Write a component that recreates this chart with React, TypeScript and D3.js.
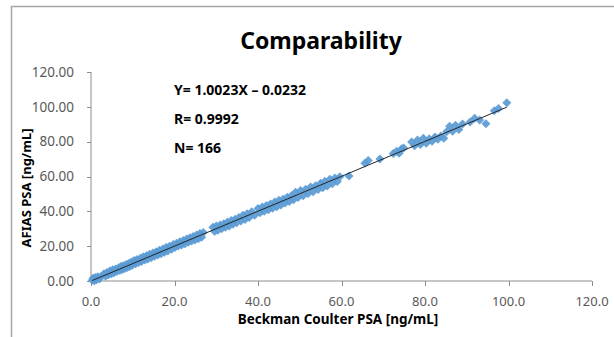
import React from "react";
import * as d3 from "d3";

const W = 614;
const H = 337;

const title = "Comparability";
const xTitle = "Beckman Coulter PSA [ng/mL]";
const yTitle = "AFIAS PSA [ng/mL]";
const annotations = ["Y= 1.0023X \u2013 0.0232", "R= 0.9992", "N= 166"];

const xTicks = [0, 20, 40, 60, 80, 100, 120];
const yTicks = [0, 20, 40, 60, 80, 100, 120];

const slope = 1.0023;
const intercept = -0.0232;

const beckman = [
  0.3, 0.5, 0.8, 1.0, 1.3, 1.6, 2.0, 2.4, 3.1, 3.5, 3.8, 4.2, 4.5, 4.9, 5.2, 5.5, 5.9, 6.2, 6.6, 6.9, 7.2, 7.5, 7.8, 8.1, 8.4, 8.7, 9.0, 9.3, 9.6, 9.9,
  10.3, 10.7, 11.0, 11.4, 11.8, 12.1, 12.5, 12.9, 13.3, 13.6, 14.0, 14.4, 14.8, 15.2, 15.6, 16.0, 16.4, 16.8, 17.2, 17.6, 18.0, 18.4, 18.8, 19.3, 19.7,
  20.1, 20.5, 20.9, 21.3, 21.7, 22.1, 22.5, 22.9, 23.3, 23.7, 24.1, 24.5, 24.9, 25.3, 25.7, 26.1, 26.5, 26.9,
  29.2, 29.6, 30.0, 30.4, 30.9, 31.3, 31.8, 32.2, 32.7, 33.1, 33.6, 34.0, 34.5, 34.9, 35.4, 35.9, 36.4, 36.9, 37.4, 37.9, 38.5, 39.2,
  40.0, 40.5, 41.0, 41.5, 42.0, 42.5, 43.0, 43.5, 44.0, 44.5, 45.0, 45.5, 46.0, 46.5, 47.0, 47.5, 48.0, 48.5, 49.0, 49.6,
  50.2, 50.8, 51.4, 52.0, 52.6, 53.2, 53.8, 54.4, 55.0, 55.5, 56.0, 56.6, 57.2, 57.8, 58.4, 59.0, 59.6,
  61.8, 65.6, 66.4, 69.2, 72.4, 73.2, 73.8, 74.4, 74.9,
  76.8, 77.5, 78.2, 78.9, 79.6, 80.3, 81.0, 81.7, 82.4, 83.1, 83.8, 84.5, 85.2, 85.9, 86.6, 87.3, 88.1,
  89.0, 90.8, 91.9, 93.1, 94.6, 96.6, 97.6, 99.6,
];

const afias = [
  0.5, 1.6, 0.2, 2.0, 0.7, 2.5, 1.2, 2.6, 4.2, 2.7, 4.9, 3.6, 5.7, 4.2, 6.4, 4.8, 6.9, 5.4, 7.6, 6.1, 8.4, 6.6, 8.8, 7.2, 9.5, 7.8, 10.1, 8.4, 10.7, 9.1,
  11.7, 9.9, 12.3, 10.6, 13.0, 11.2, 13.9, 12.0, 14.5, 12.6, 15.4, 13.4, 16.0, 14.2, 16.8, 15.0, 17.7, 15.7, 18.4, 16.5, 19.3, 17.3, 20.0, 18.2, 20.9,
  19.2, 21.7, 20.1, 22.5, 20.7, 23.3, 21.4, 24.1, 22.2, 24.8, 23.0, 25.6, 23.6, 26.4, 24.3, 27.3, 25.1, 27.8,
  30.8, 28.5, 31.5, 29.2, 32.2, 30.0, 32.8, 30.8, 33.9, 31.6, 34.7, 32.6, 35.5, 33.4, 36.4, 34.4, 37.8, 35.3, 38.6, 36.4, 39.8, 37.8,
  41.6, 39.2, 42.5, 40.0, 43.4, 40.9, 44.2, 41.8, 45.3, 42.6, 46.4, 43.7, 46.9, 44.8, 48.1, 45.6, 48.9, 46.7, 51.0, 47.9,
  51.9, 48.9, 52.6, 50.2, 53.9, 51.3, 54.7, 52.6, 56.1, 53.6, 57.2, 54.5, 58.4, 55.8, 59.1, 57.1, 59.8,
  60.3, 67.6, 69.2, 70.1, 73.2, 74.5, 73.4, 75.9, 76.4,
  79.8, 77.6, 80.9, 78.4, 82.0, 79.1, 81.6, 80.3, 82.7, 81.4, 83.2, 81.9, 85.7, 88.8, 86.0, 89.4, 87.0,
  90.2, 91.3, 93.5, 92.4, 90.3, 97.8, 99.0, 102.3,
];

const FONT = "'Noto Sans', 'Open Sans', sans-serif";

export default function App() {
  const x = d3.scaleLinear().domain([0, 120]).range([91, 592]);
  const y = d3.scaleLinear().domain([0, 120]).range([281, 72]);
  const diamond = d3.symbol().type(d3.symbolDiamond2).size(52)();
  const xMin = d3.min(beckman) as number;
  const xMax = d3.max(beckman) as number;
  const line = d3.line<number>().x((d) => x(d)).y((d) => y(slope * d + intercept));
  const axisColor = "#8c8c8c";
  const tickText = "#595959";

  return (
    <svg width={W} height={H} style={{ position: "absolute", left: 0, top: 0 }} fontFamily={FONT}>
      <rect x={0} y={0} width={W} height={H} fill="#fff" />
      <path d={`M11.5,${H + 2}V6.5H${W + 2}`} fill="none" stroke="#a6a6a6" strokeWidth={1.5} />
      <text x={321} y={49} textAnchor="middle" fontSize={23} fontWeight="bold" fill="#000">{title}</text>

      {/* axes */}
      <line x1={x(0)} x2={x(0)} y1={y(120)} y2={y(0)} stroke={axisColor} />
      <line x1={x(0)} x2={x(120)} y1={y(0)} y2={y(0)} stroke={axisColor} />
      {yTicks.map((t) => (
        <g key={"y" + t}>
          <line x1={x(0) - 4} x2={x(0)} y1={Math.round(y(t)) + 0.5} y2={Math.round(y(t)) + 0.5} stroke={axisColor} />
          <text x={74} y={y(t) + 4.8} textAnchor="end" fontSize={13.5} fill={tickText}>{t.toFixed(2)}</text>
        </g>
      ))}
      {xTicks.map((t) => (
        <g key={"x" + t}>
          <line x1={Math.round(x(t)) + 0.5} x2={Math.round(x(t)) + 0.5} y1={y(0)} y2={y(0) + 5} stroke={axisColor} />
          <text x={x(t)} y={306} textAnchor="middle" fontSize={13} fill={tickText}>{t.toFixed(1)}</text>
        </g>
      ))}

      {/* points */}
      {beckman.map((bx, i) => (
        <path key={i} d={diamond} transform={`translate(${x(bx)},${y(afias[i])})`} fill="#5b9bd5" opacity={0.92} />
      ))}

      {/* regression */}
      <path d={line([xMin, xMax]) || ""} stroke="#262626" strokeWidth={1} fill="none" />

      {annotations.map((a, i) => (
        <text key={a} x={174} y={95 + i * 28.8} fontSize={14} fontWeight="bold" fill="#000">{a}</text>
      ))}

      <text x={338} y={324} textAnchor="middle" fontSize={13.5} fontWeight="bold" fill="#000">{xTitle}</text>
      <text transform={`translate(31,188) rotate(-90)`} textAnchor="middle" fontSize={13} fontWeight="bold" fill="#000">{yTitle}</text>
    </svg>
  );
}
